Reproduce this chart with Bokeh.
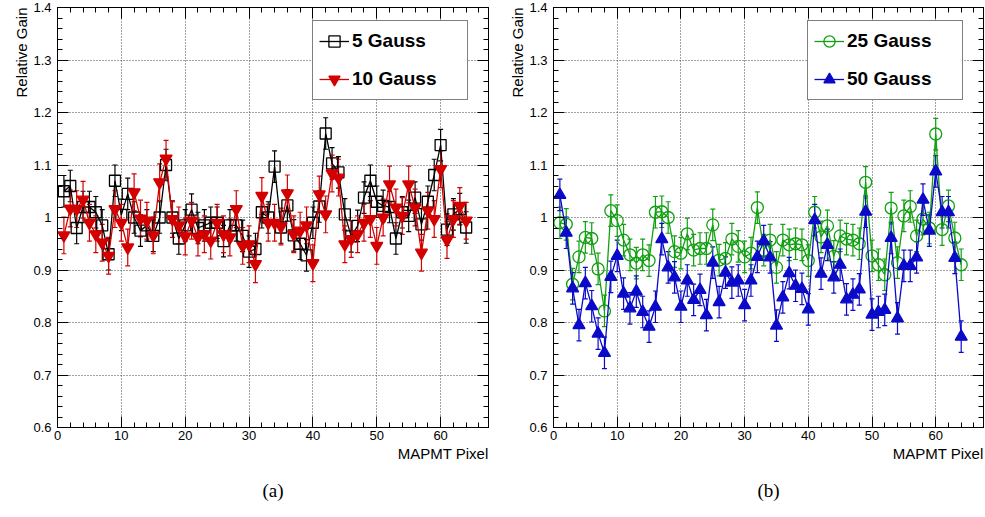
from bokeh.plotting import figure
from bokeh.models import (ColumnDataSource, Whisker, TeeHead, Legend, LegendItem,
                          LinearAxis, Range1d, FixedTicker, Title)
from bokeh.layouts import row
from bokeh.embed import file_html
from bokeh.resources import INLINE

# ---------------- data ----------------
PIXEL = list(range(1, 65))

GAIN_5G = [1.05, 1.06, 0.98, 1.02, 1.02, 1.01, 0.985, 0.93, 1.07, 1.005,
           1.045, 1.0, 0.975, 0.985, 0.965, 1.0, 1.10, 1.0, 0.96, 0.985,
           1.015, 0.98, 0.985, 0.99, 0.99, 0.955, 0.985, 0.985, 0.965, 0.935,
           0.94, 1.01, 1.0, 1.097, 0.981, 1.023, 0.966, 0.95, 0.928, 0.99,
           1.021, 1.16, 1.103, 1.086, 1.006, 0.964, 0.984, 1.038, 1.07, 1.03,
           1.022, 1.02, 0.96, 1.01, 1.003, 1.038, 0.987, 1.03, 1.081, 1.138,
           0.977, 1.006, 1.016, 0.981]

GAIN_10G = [0.966, 1.017, 1.016, 1.034, 0.99, 0.968, 0.952, 0.927, 1.016, 0.99,
            0.943, 1.048, 0.998, 0.994, 0.966, 1.067, 1.112, 0.997, 0.985, 0.964,
            0.994, 0.962, 0.968, 0.956, 0.99, 0.968, 0.962, 1.016, 0.946, 0.949,
            0.911, 1.041, 0.99, 0.99, 0.983, 1.046, 0.968, 0.975, 0.985, 0.913,
            1.044, 1.006, 1.084, 1.076, 0.949, 0.959, 0.968, 0.99, 0.997, 0.946,
            1.0, 1.063, 1.019, 1.003, 1.063, 1.019, 0.933, 1.013, 0.997, 1.092,
            0.957, 0.997, 1.022, 0.994]

GAIN_25G = [0.99, 0.987, 0.873, 0.925, 0.962, 0.96, 0.902, 0.822, 1.013, 0.994,
            0.957, 0.929, 0.913, 0.929, 0.918, 1.01, 1.011, 1.0, 0.935, 0.932,
            0.969, 0.938, 0.941, 0.941, 0.986, 0.919, 0.922, 0.959, 0.945, 0.925,
            0.932, 1.019, 0.938, 0.957, 0.905, 0.957, 0.948, 0.95, 0.948, 0.918,
            1.01, 0.963, 0.984, 0.926, 0.965, 0.959, 0.957, 0.95, 1.067, 0.927,
            0.91, 0.891, 1.018, 0.914, 1.003, 1.021, 0.965, 0.997, 0.98, 1.159,
            0.977, 1.022, 0.961, 0.91]

GAIN_50G = [1.043, 0.971, 0.865, 0.795, 0.875, 0.831, 0.779, 0.742, 0.887, 0.927,
            0.855, 0.827, 0.859, 0.82, 0.792, 0.83, 0.959, 0.905, 0.886, 0.83,
            0.88, 0.843, 0.862, 0.814, 0.914, 0.839, 0.895, 0.876, 0.88, 0.833,
            0.88, 0.925, 0.955, 0.924, 0.794, 0.848, 0.894, 0.87, 0.864, 0.825,
            0.995, 0.893, 0.948, 0.886, 0.91, 0.844, 0.853, 0.863, 1.011, 0.815,
            0.82, 0.824, 0.961, 0.808, 0.908, 0.908, 0.924, 1.034, 0.975, 1.088,
            1.01, 1.01, 0.923, 0.773]

ERR_5G = 0.03
ERR_10G = 0.035
ERR_25G = 0.03
ERR_50G = 0.03

X_TICKS = [0, 10, 20, 30, 40, 50, 60]
Y_TICKS = [0.6, 0.7, 0.8, 0.9, 1, 1.1, 1.2, 1.3, 1.4]
Y_TICK_LABELS = {1: "1"}

SERIES_A = [("5 Gauss", GAIN_5G, ERR_5G), ("10 Gauss", GAIN_10G, ERR_10G)]
SERIES_B = [("25 Gauss", GAIN_25G, ERR_25G), ("50 Gauss", GAIN_50G, ERR_50G)]

FONT = "Liberation Sans"
SERIF = "Liberation Serif"

STYLE = {
    "5 Gauss": dict(color="#000000", marker="square", fill=False, size=11),
    "10 Gauss": dict(color="#d40000", marker="inverted_triangle", fill=True, size=12),
    "25 Gauss": dict(color="#10a010", marker="circle", fill=False, size=12),
    "50 Gauss": dict(color="#0a0ac8", marker="triangle", fill=True, size=12),
}

X_MINOR = [v * 2 for v in range(0, 34)]
Y_MINOR = [round(0.6 + 0.02 * k, 2) for k in range(0, 41)]


def style_axis(ax, labels=True, ticks=None):
    ax.axis_line_color = "black"
    ax.major_tick_in = 11
    ax.major_tick_out = 0
    ax.minor_tick_in = 5
    ax.minor_tick_out = 0
    ax.major_tick_line_color = "black"
    ax.minor_tick_line_color = "black"
    if labels:
        ax.major_label_text_font = FONT
        ax.major_label_text_font_size = "13px"
        ax.major_label_text_color = "black"
    else:
        ax.major_label_overrides = {t: "" for t in ticks}
        ax.major_label_text_font_size = "1px"
        ax.major_label_standoff = 0


def make_panel(series, caption, left_border, right_border, frame_w, legend_x):
    p = figure(frame_width=frame_w, frame_height=420,
               min_border_left=left_border, min_border_right=right_border,
               min_border_top=7, min_border_bottom=90,
               x_range=Range1d(0, 67.5), y_range=Range1d(0.6, 1.4),
               output_backend="svg", toolbar_location=None,
               background_fill_color="white", border_fill_color="white")
    p.outline_line_color = "black"
    p.outline_line_width = 1

    xt = FixedTicker(ticks=X_TICKS, minor_ticks=X_MINOR)
    yt = FixedTicker(ticks=Y_TICKS, minor_ticks=Y_MINOR)
    p.xaxis.ticker = xt
    p.yaxis.ticker = yt
    p.yaxis.major_label_overrides = Y_TICK_LABELS
    style_axis(p.xaxis[0])
    style_axis(p.yaxis[0])
    p.xaxis.major_label_standoff = 3
    p.yaxis.major_label_standoff = 6

    top = LinearAxis(ticker=FixedTicker(ticks=X_TICKS, minor_ticks=X_MINOR))
    style_axis(top, labels=False, ticks=X_TICKS)
    p.add_layout(top, "above")
    right = LinearAxis(ticker=FixedTicker(ticks=Y_TICKS, minor_ticks=Y_MINOR))
    style_axis(right, labels=False, ticks=Y_TICKS)
    p.add_layout(right, "right")

    p.xgrid.ticker = xt
    p.ygrid.ticker = yt
    for g in (p.xgrid[0], p.ygrid[0]):
        g.grid_line_color = "#444444"
        g.grid_line_dash = "1 2"
        g.grid_line_width = 1

    items = []
    for name, vals, err in series:
        st = STYLE[name]
        c = st["color"]
        src = ColumnDataSource(dict(x=PIXEL, y=vals,
                                    upper=[v + err for v in vals],
                                    lower=[v - err for v in vals]))
        w = Whisker(source=src, base="x", upper="upper", lower="lower",
                    dimension="height", line_color=c, line_width=1.2,
                    upper_head=TeeHead(size=5, line_color=c, line_width=1.2),
                    lower_head=TeeHead(size=5, line_color=c, line_width=1.2))
        p.add_layout(w)
        ln = p.line("x", "y", source=src, line_color=c, line_width=1.3)
        sc = p.scatter("x", "y", source=src, marker=st["marker"], size=st["size"],
                       line_color=c, line_width=1.3,
                       fill_color=c if st["fill"] else "white",
                       fill_alpha=1.0 if st["fill"] else 0.0)
        items.append(LegendItem(label=name, renderers=[ln, sc]))

    leg = Legend(items=items, location=(legend_x, 327))
    leg.border_line_color = "black"
    leg.border_line_width = 1
    leg.background_fill_color = "white"
    leg.background_fill_alpha = 1.0
    leg.label_text_font = FONT
    leg.label_text_font_style = "bold"
    leg.label_text_font_size = "19px"
    leg.label_text_color = "black"
    leg.glyph_width = 30
    leg.glyph_height = 28
    leg.label_height = 28
    leg.label_width = 109
    leg.label_standoff = 3
    leg.spacing = 10
    leg.padding = 6
    leg.margin = 0
    p.add_layout(leg)

    p.add_layout(Title(text="Relative Gain", align="right", text_font=FONT,
                       text_font_size="15px", text_font_style="normal",
                       text_color="black", standoff=2), "left")
    p.add_layout(Title(text="MAPMT Pixel", align="right", text_font=FONT,
                       text_font_size="15px", text_font_style="normal",
                       text_color="black", standoff=0), "below")
    p.add_layout(Title(text=caption, align="center", offset=-27, text_font=SERIF,
                       text_font_size="19px", text_font_style="normal",
                       text_color="black", standoff=33), "below")
    return p


p1 = make_panel(SERIES_A, "(a)", 57, 12, 431, 255)
p2 = make_panel(SERIES_B, "(b)", 53, 2, 430, 254)

layout = row(p1, p2)
open("out.html", "w").write(file_html(layout, INLINE))
